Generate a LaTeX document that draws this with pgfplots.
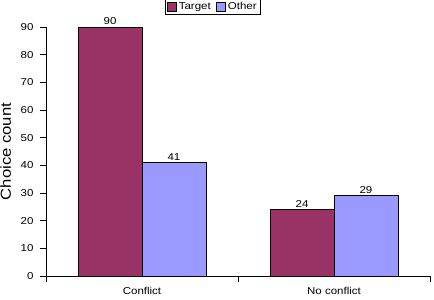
\documentclass[border=0pt]{standalone}
\usepackage{pgfplots}
\pgfplotsset{compat=1.18}
\usepackage{fontspec}
\setmainfont[FakeStretch=1.15]{Liberation Sans}
\definecolor{tgt}{HTML}{993366}
\definecolor{oth}{HTML}{9999FF}
\begin{document}
\begin{tikzpicture}[x=1pt,y=1pt]
\useasboundingbox (0,0) rectangle (434,300);
\begin{axis}[
  at={(46pt,24pt)}, anchor=south west,
  scale only axis, width=384pt, height=249pt,
  xmin=0, xmax=2, ymin=0, ymax=90,
  axis x line*=bottom, axis y line*=left,
  axis line style={black, line width=0.6pt},
  ybar=0pt, bar width=0.3333,
  xtick={0,1,2}, xticklabels={},
  extra x ticks={0.5,1.5}, extra x tick labels={Conflict,No conflict},
  extra x tick style={major tick length=0pt, tick label style={yshift=-8pt}},
  x tick style={black, line width=0.6pt}, y tick style={black, line width=0.6pt},
  xtick align=outside, ytick align=outside,
  major tick length=6pt,
  ytick={0,10,...,90},
  yticklabel style={xshift=-3pt},
  tick label style={font=\fontsize{10}{11}\selectfont},
  /pgf/number format/assume math mode=true,
  ylabel={Choice count},
  ylabel style={font=\fontsize{14.5}{16}\selectfont, at={(axis description cs:-0.105,0.5)}, anchor=center},
  nodes near coords,
  nodes near coords style={font=\fontsize{10}{11}\selectfont, inner sep=1pt, yshift=1pt},
  legend columns=2,
  legend style={at={(0.434,1)}, anchor=south, yshift=12pt, font=\fontsize{10}{11}\selectfont, draw=black, line width=0.6pt, inner sep=1.5pt, /tikz/every even column/.append style={column sep=3pt}},
  legend image code/.code={\draw[#1, draw=black, line width=0.6pt] (0pt,-4pt) rectangle (9.5pt,4.5pt);},
]
\addplot[fill=tgt, draw=black, line width=0.6pt] coordinates {(0.5,90) (1.5,24)};
\addplot[fill=oth, draw=black, line width=0.6pt] coordinates {(0.5,41) (1.5,29)};
\legend{Target,Other}
\end{axis}
\end{tikzpicture}
\end{document}
